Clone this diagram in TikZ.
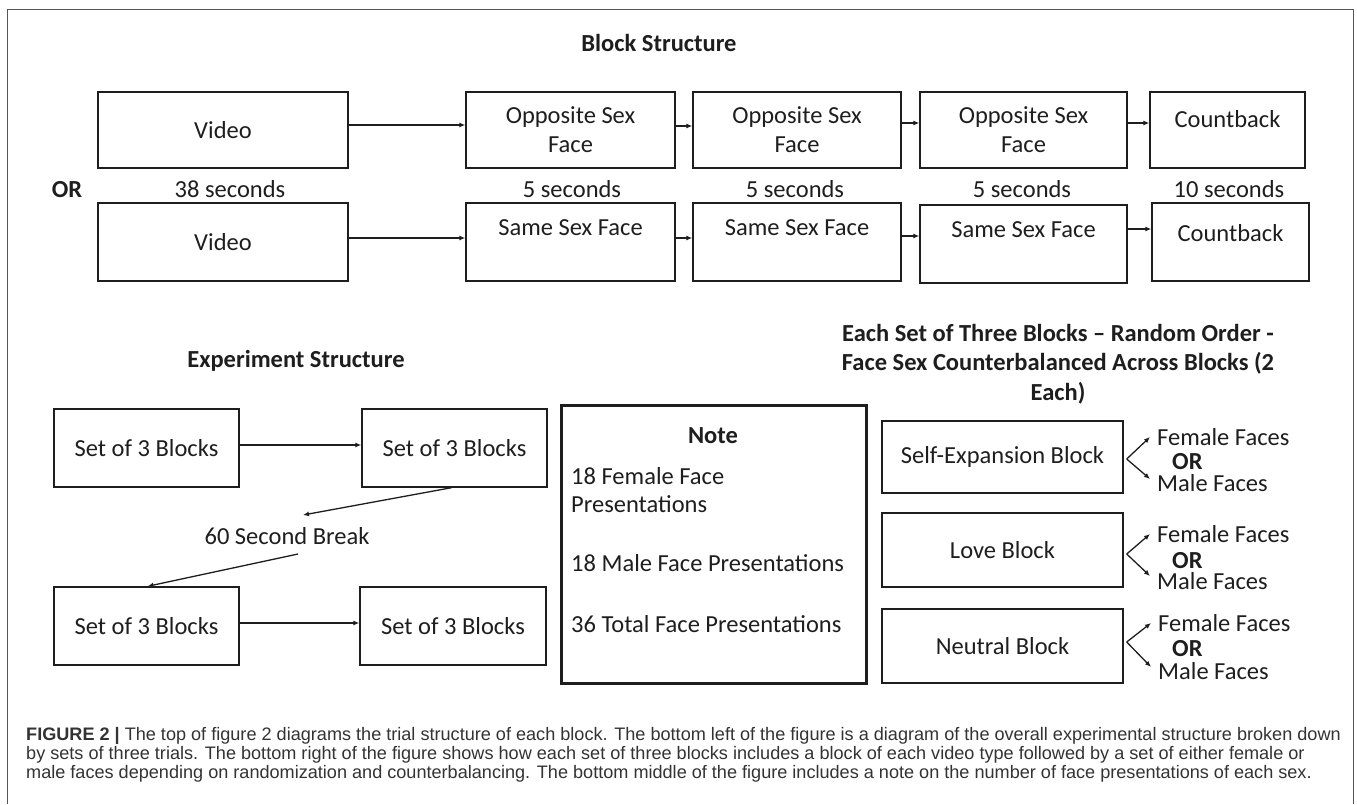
\documentclass[tikz,border=0pt]{standalone}
\usepackage{fontspec}
\setmainfont{Carlito}
\newfontfamily\capfont{Liberation Sans}
\usetikzlibrary{arrows.meta,calc}
\definecolor{ink}{HTML}{1E1E1E}
\definecolor{captxt}{HTML}{333333}
\definecolor{framec}{HTML}{555555}
\tikzset{
  box/.style={draw=ink, line width=1.4pt, inner sep=0pt, align=center,
    font=\fontsize{24.5}{29}\selectfont, text=ink},
  notebox/.style={box, line width=3pt},
  txt/.style={inner sep=0pt, font=\fontsize{24.5}{29}\selectfont, text=ink},
  btxt/.style={inner sep=0pt, font=\fontsize{24.5}{29.5}\selectfont\bfseries, text=ink, align=center},
  arr/.style={draw=ink, line width=1.3pt, -{Latex[length=6pt,width=5pt]}},
  captionline/.style={inner sep=0pt, anchor=base west, font=\capfont\fontsize{18.1}{19}\selectfont, text=captxt},
  framel/.style={draw=framec, line width=1pt},
}
\begin{document}
\begin{tikzpicture}[x=1pt,y=-1pt]
\fill[white] (0,0) rectangle (1357,804);
\useasboundingbox (0,0) rectangle (1357,804);
\draw[framel] (7,804) -- (7,9) -- (1353,9) -- (1353,804);

% ---------- Block structure ----------
\node[btxt, anchor=base] (bst) at (659,51) {Block Structure};

\node[box, minimum width=250pt, minimum height=76pt] (vid1) at (223,130) {Video};
\node[box, minimum width=209pt, minimum height=76pt] (opp1) at (570.5,130) {Opposite Sex\\Face};
\node[box, minimum width=208pt, minimum height=76pt] (opp2) at (797,130) {Opposite Sex\\Face};
\node[box, minimum width=207pt, minimum height=76pt] (opp3) at (1023.5,130) {Opposite Sex\\Face};
\node[box, minimum width=155pt, minimum height=76pt] (cb1) at (1227.5,130) {};
\node[txt] (cb1t) at ([yshift=11pt]cb1.center) {Countback};

\node[box, minimum width=250pt, minimum height=78pt] (vid2) at (223,242) {Video};
\node[box, minimum width=209pt, minimum height=78pt] (same1) at (570.5,242) {Same Sex Face\\\phantom{Face}};
\node[box, minimum width=208pt, minimum height=78pt] (same2) at (797,242) {Same Sex Face\\\phantom{Face}};
\node[box, minimum width=207pt, minimum height=78pt] (same3) at (1023.5,244) {Same Sex Face\\\phantom{Face}};
\node[box, minimum width=157pt, minimum height=78pt] (cb2) at (1230.5,242) {};
\node[txt] (cb2t) at ([yshift=9pt]cb2.center) {Countback};

\draw[arr] ([yshift=5pt]vid1.east) -- ([yshift=5pt]opp1.west);
\draw[arr] ([yshift=4pt]opp1.east) -- ([yshift=4pt]opp2.west);
\draw[arr] ([yshift=7pt]opp2.east) -- ([yshift=7pt]opp3.west);
\draw[arr] ([yshift=7pt]opp3.east) -- ([yshift=7pt]cb1.west);
\draw[arr] ([yshift=4pt]vid2.east) -- ([yshift=4pt]same1.west);
\draw[arr] ([yshift=4pt]same1.east) -- ([yshift=4pt]same2.west);
\draw[arr] ([yshift=6pt]same2.east) -- ([yshift=6pt]same2.east -| same3.west);
\draw[arr] ([yshift=13pt]cb2.west -| same3.east) -- ([yshift=13pt]cb2.west);

\node[btxt, anchor=base] (or0) at (67,197) {OR};
\node[txt, anchor=base] (t38) at (230,197) {38 seconds};
\node[txt, anchor=base] (t5a) at (572,197) {5 seconds};
\node[txt, anchor=base] (t5b) at (795,197) {5 seconds};
\node[txt, anchor=base] (t5c) at (1022,197) {5 seconds};
\node[txt, anchor=base] (t10) at (1229,197) {10 seconds};

% ---------- Experiment structure ----------
\node[btxt, anchor=base] (est) at (296,367) {Experiment Structure};
\node[box, minimum width=185pt, minimum height=78pt] (setA) at (146.5,448) {Set of 3 Blocks};
\node[box, minimum width=185pt, minimum height=78pt] (setB) at (454.5,448) {Set of 3 Blocks};
\node[box, minimum width=185pt, minimum height=78pt] (setC) at (146.5,626) {Set of 3 Blocks};
\node[box, minimum width=186pt, minimum height=78pt] (setD) at (453,626) {Set of 3 Blocks};
\draw[arr] ([yshift=3pt]setA.east) -- ([yshift=3pt]setA.east -| setB.west);
\draw[arr] ([yshift=3pt]setC.east) -- ([yshift=3pt]setC.east -| setD.west);
\node[txt] (brk) at (287,536) {60 Second Break};
\coordinate (b1) at (303,515);
\coordinate (b2) at (298,554);
\draw[arr] ([xshift=-3pt]setB.south) -- (b1);
\draw[arr] (b2) -- ([xshift=1pt]setC.north);

% ---------- Note ----------
\node[notebox, minimum width=305pt, minimum height=278pt] (note) at (713.5,544) {};
\node[btxt, anchor=base] (notet) at (713,443) {Note};
\node[txt, anchor=base west] (n1) at (571,484) {18 Female Face};
\node[txt, anchor=base west] (n1b) at (571,512) {Presentations};
\node[txt, anchor=base west] (n2) at (571,571) {18 Male Face Presentations};
\node[txt, anchor=base west] (n3) at (571,632) {36 Total Face Presentations};

% ---------- Each set of three blocks ----------
\node[btxt] (eset) at (1058,364) {Each Set of Three Blocks – Random Order -\\Face Sex Counterbalanced Across Blocks (2\\Each)};
\node[box, minimum width=241pt, minimum height=72pt] (seb) at (1002.5,457) {Self-Expansion Block};
\node[box, minimum width=241pt, minimum height=74pt] (lov) at (1002.5,550) {Love Block};
\node[box, minimum width=241pt, minimum height=74pt] (neu) at (1002.5,646) {Neutral Block};

\coordinate (sebo) at ([xshift=3pt,yshift=-2pt]seb.east);
\node[txt, anchor=west] (sebF) at (1157,437) {Female Faces};
\node[btxt, anchor=west] (sebO) at (1172,462) {OR};
\node[txt, anchor=west] (sebM) at (1157,483) {Male Faces};
\draw[arr] (sebo) -- ([xshift=-7pt]sebF.west);
\draw[arr] (sebo) -- ([xshift=-7pt,yshift=4pt]sebM.west);

\coordinate (lovo) at ([xshift=3pt,yshift=-4pt]lov.east);
\node[txt, anchor=west] (lovF) at (1157,534) {Female Faces};
\node[btxt, anchor=west] (lovO) at (1172,561) {OR};
\node[txt, anchor=west] (lovM) at (1157,581) {Male Faces};
\draw[arr] (lovo) -- ([xshift=-7pt]lovF.west);
\draw[arr] (lovo) -- ([xshift=-7pt,yshift=5pt]lovM.west);

\coordinate (neuo) at ([xshift=3pt,yshift=4pt]neu.east);
\node[txt, anchor=west] (neuF) at (1158,623) {Female Faces};
\node[btxt, anchor=west] (neuO) at (1172,649) {OR};
\node[txt, anchor=west] (neuM) at (1158,671) {Male Faces};
\draw[arr] (neuo) -- ([xshift=-7pt]neuF.west);
\draw[arr] (neuo) -- ([xshift=-7pt,yshift=4pt]neuM.west);

% ---------- Caption ----------
\node[captionline] (cap1) at (26,740) {\textbf{FIGURE 2 |} The top of figure 2 diagrams the trial structure of each block. The bottom left of the figure is a diagram of the overall experimental structure broken down};
\node[captionline] (cap2) at (26,759) {by sets of three trials. The bottom right of the figure shows how each set of three blocks includes a block of each video type followed by a set of either female or};
\node[captionline] (cap3) at (26,778) {male faces depending on randomization and counterbalancing. The bottom middle of the figure includes a note on the number of face presentations of each sex.};
\end{tikzpicture}
\end{document}
